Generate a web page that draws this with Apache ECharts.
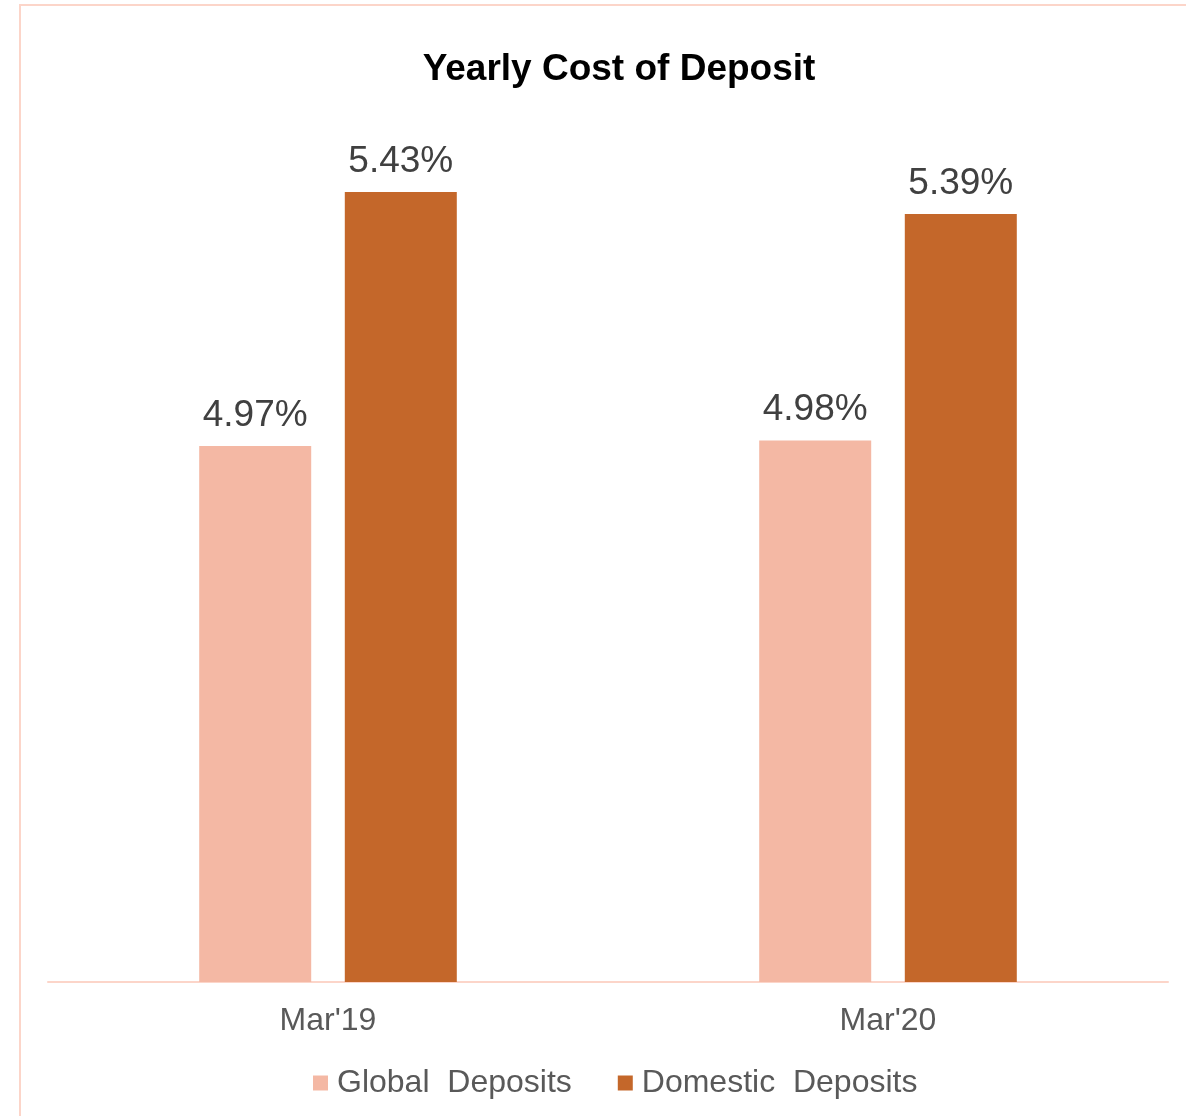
<!DOCTYPE html>
<html>
<head>
<meta charset="utf-8">
<script src="https://cdn.jsdelivr.net/npm/echarts@6/dist/echarts.min.js"></script>
<style>
  html, body { margin: 0; padding: 0; background: #fff; }
  #chart { width: 1186px; height: 1116px; }
</style>
</head>
<body>
<div id="chart"></div>
<script>
// data
const categories = ["Mar'19", "Mar'20"];
const globalDeposits = [4.97, 4.98];
const domesticDeposits = [5.43, 5.39];
const seriesNames = ["Global  Deposits", "Domestic  Deposits"];

const font = "Liberation Sans, Arial, sans-serif";
const labelStyle = {
  show: true,
  position: "top",
  distance: 12,
  color: "#404040",
  fontSize: 37,
  fontFamily: font,
  formatter: (p) => p.value.toFixed(2) + "%",
};

const chart = echarts.init(document.getElementById("chart"));
chart.setOption({
  animation: false,
  backgroundColor: "#fff",
  title: {
    text: "Yearly Cost of Deposit",
    left: 614,
    textAlign: "center",
    top: 46,
    textStyle: { fontSize: 37, fontWeight: "bold", color: "#000", fontFamily: font },
  },
  graphic: [
    {
      type: "rect",
      shape: { x: 20, y: 5, width: 1300, height: 1300 },
      style: { fill: "none", stroke: "#FCD5C9", lineWidth: 2 },
      silent: true,
    },
  ],
  legend: {
    bottom: 12,
    left: 308,
    icon: "rect",
    itemWidth: 15,
    itemHeight: 15,
    itemGap: 46,
    textStyle: { fontSize: 32, color: "#595959", fontFamily: font, padding: [0, 0, 0, 4] },
    data: seriesNames,
  },
  grid: { left: 48, right: 18, top: 98, bottom: 134 },
  xAxis: {
    type: "category",
    data: categories,
    axisLine: { lineStyle: { color: "#FCD5C9", width: 2 } },
    axisTick: { show: false },
    axisLabel: { fontSize: 32, color: "#595959", fontFamily: font, margin: 23 },
  },
  yAxis: {
    type: "value",
    min: 4,
    max: 5.6,
    show: false,
    splitLine: { show: false },
  },
  series: [
    {
      name: seriesNames[0],
      type: "bar",
      data: globalDeposits,
      barWidth: 112,
      barGap: "30%",
      itemStyle: { color: "#F4B8A4" },
      label: labelStyle,
    },
    {
      name: seriesNames[1],
      type: "bar",
      data: domesticDeposits,
      barWidth: 112,
      itemStyle: { color: "#C4672A" },
      label: labelStyle,
    },
  ],
});
</script>
</body>
</html>
